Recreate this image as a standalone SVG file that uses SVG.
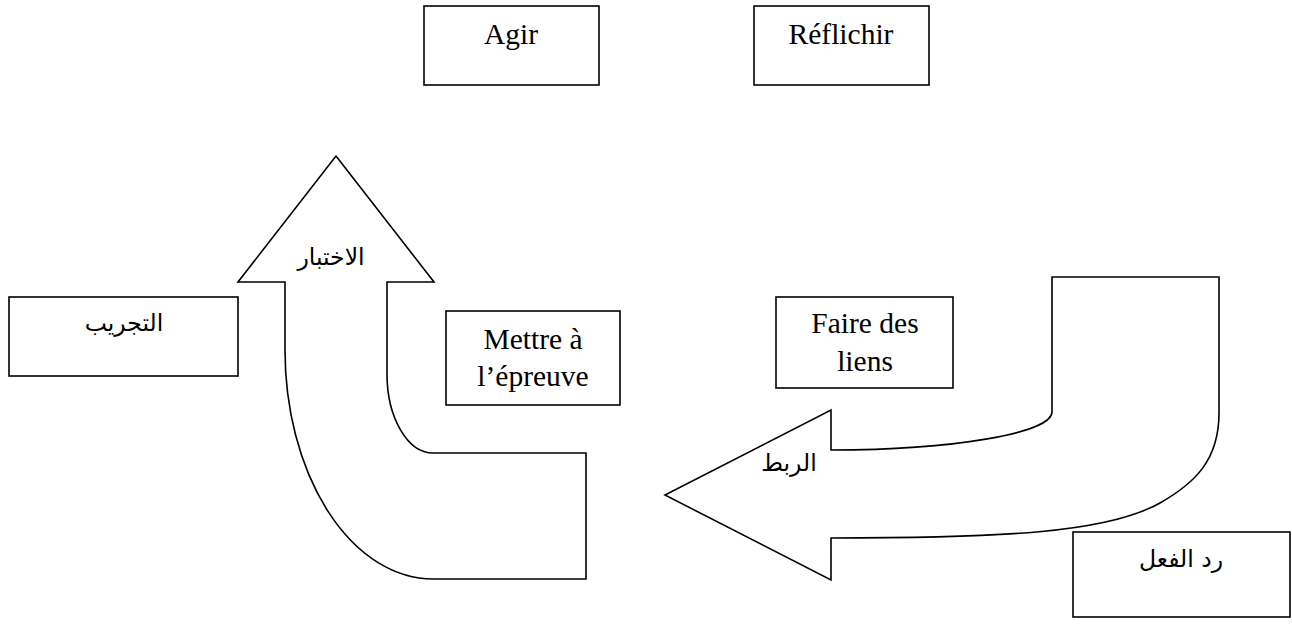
<svg xmlns="http://www.w3.org/2000/svg" width="1292" height="626" viewBox="0 0 1292 626">
<style>
.box{fill:#fff;stroke:#000;stroke-width:1.6}
.arrow{fill:#fff;stroke:#000;stroke-width:1.6;stroke-linejoin:miter}
.fr{font-family:"Liberation Serif","Times New Roman",serif;font-size:29.5px;fill:#000;text-anchor:middle}
.ar{font-family:"DejaVu Sans","Noto Sans",sans-serif;font-size:23.5px;fill:#000;text-anchor:middle}
</style>
<rect width="1292" height="626" fill="#fff"/>
<g id="connectors">
<path class="arrow" d="M336,156 L434,282 L387,282 L387,374 A46,79 0 0 0 433,453 L586,453 L586,579 L433,579 A148,229 0 0 1 285,350 L285,282 L238,282 Z"/>
<text class="ar" x="331" y="265" direction="rtl">الاختبار</text>
<path class="arrow" d="M665,495 L831,410 L831,450 A221,38 0 0 0 1052,412 L1052,277 L1219,277 L1219,413 C1219,460 1195,483 1160,503 C1107,533 1000,538 831,538 L831,580 Z"/>
<text class="ar" x="789" y="471" direction="rtl">الربط</text>
</g>
<g id="agir"><rect class="box" x="424" y="6" width="175" height="79"/><text class="fr" x="511" y="44">Agir</text></g>
<g id="reflichir"><rect class="box" x="754" y="6" width="175" height="79"/><text class="fr" x="841" y="44">Réflichir</text></g>
<g id="tajrib"><rect class="box" x="9" y="297" width="229" height="79"/><text class="ar" x="124" y="331" direction="rtl">التجريب</text></g>
<g id="mettre"><rect class="box" x="446" y="311" width="174" height="94"/><text class="fr" x="533" y="349">Mettre à</text><text class="fr" x="533" y="386">l’épreuve</text></g>
<g id="faire"><rect class="box" x="776" y="297" width="177" height="91"/><text class="fr" x="865" y="333">Faire des</text><text class="fr" x="865" y="371">liens</text></g>
<g id="raddfiil"><rect class="box" x="1073" y="532" width="217" height="85"/><text class="ar" x="1181" y="567" direction="rtl">رد الفعل</text></g>
</svg>
